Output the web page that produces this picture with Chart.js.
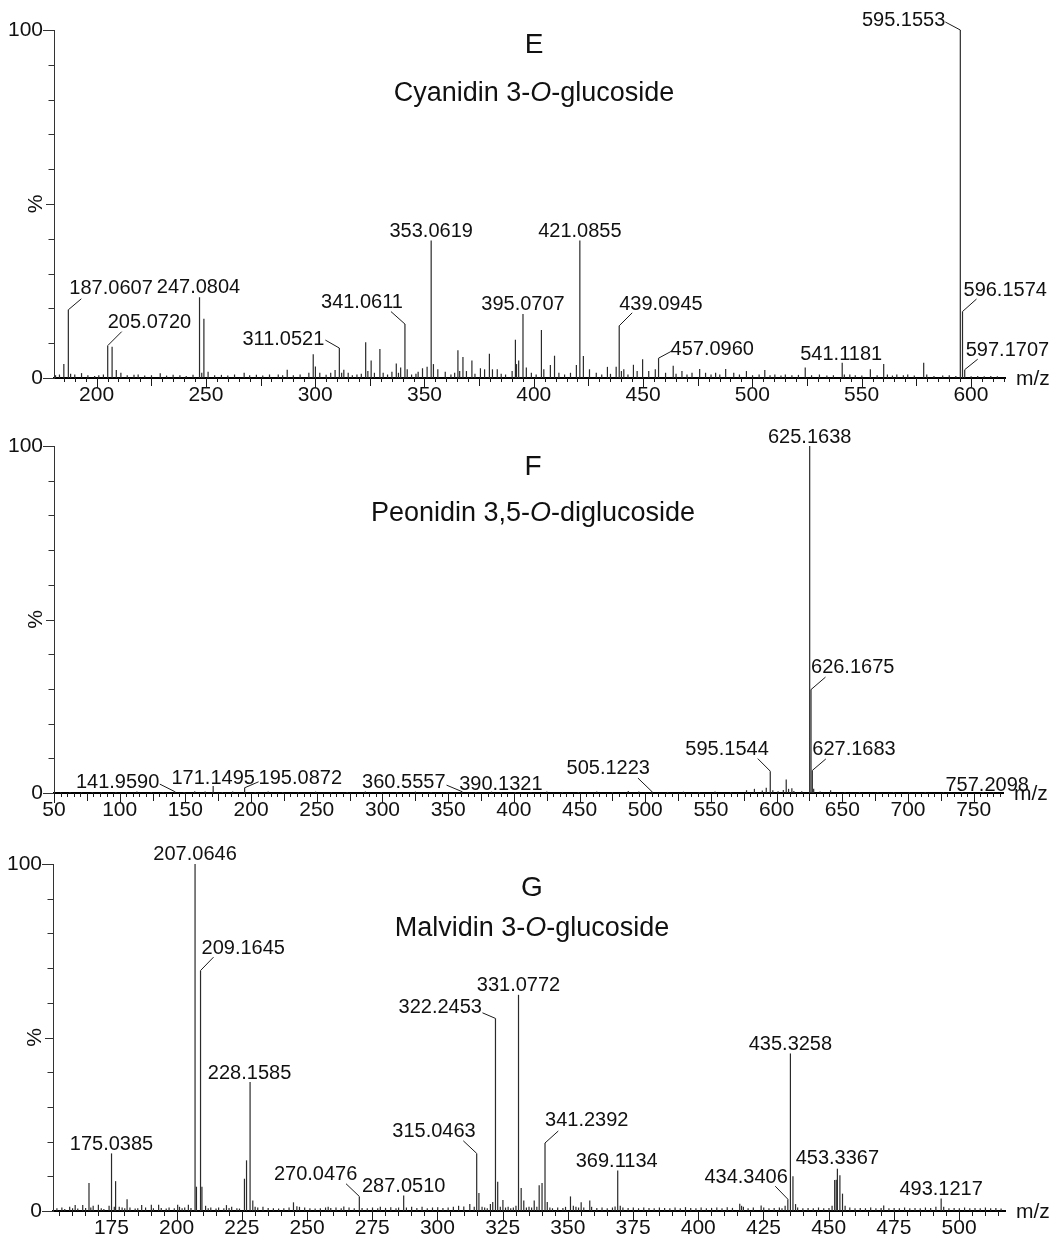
<!DOCTYPE html>
<html>
<head>
<meta charset="utf-8">
<script src="https://cdn.jsdelivr.net/npm/chart.js@4.4.1/dist/chart.umd.min.js"></script>
<style>
  html, body { margin: 0; padding: 0; background: #fff; }
  #wrap { position: relative; width: 1055px; height: 1247px; overflow: hidden; background: #fff; }
  canvas { position: absolute; left: 0; }
</style>
</head>
<body>
<div id="wrap">
  <canvas id="chartE" width="1055" height="415" style="top:0px"></canvas>
  <canvas id="chartF" width="1055" height="415" style="top:415px"></canvas>
  <canvas id="chartG" width="1055" height="417" style="top:830px"></canvas>
</div>
<script>
// ---------- datos: espectro E (Cyanidin 3-O-glucoside) ----------
const eMz = [181.2, 183.0, 185.0, 187.0607, 188.1, 190.0, 193.1, 196.0, 199.1, 201.0, 203.1, 205.0720, 207.08, 209.0, 211.1,
  214.0, 217.1, 219.0, 222.0, 225.1, 229.1, 232.0, 235.0, 238.1, 241.0, 244.1, 247.0804, 248.1, 249.08, 251.0, 254.0,
  257.1, 260.0, 263.1, 267.5, 270.0, 273.1, 276.0, 279.1, 283.1, 285.1, 287.2, 290.0, 293.1, 297.1, 299.1, 300.1, 302.1,
  305.0, 307.1, 309.1, 311.0521, 312.1, 313.1, 315.1, 317.0, 319.1, 321.1, 323.1, 324.1, 325.6, 327.1, 329.6, 331.1,
  333.1, 335.1, 337.1, 338.1, 339.1, 341.0611, 342.1, 344.1, 346.1, 347.1, 349.1, 351.2, 353.0619, 354.1, 356.1, 359.5,
  362.1, 363.8, 365.3, 366.1, 367.6, 369.2, 371.7, 373.1, 375.6, 377.5, 379.7, 381.1, 383.3, 385.1, 387.1, 390.1, 391.6,
  392.1, 393.1, 395.0707, 396.6, 398.9, 401.1, 403.5, 404.6, 407.6, 409.5, 411.5, 414.1, 416.8, 419.5, 421.0855, 422.7,
  425.5, 428.6, 431.1, 433.7, 435.1, 437.7, 439.0945, 440.1, 441.2, 443.1, 445.6, 447.3, 449.8, 452.6, 455.6, 457.0960,
  460.3, 463.8, 465.1, 467.8, 470.1, 472.4, 475.9, 478.6, 481.1, 483.2, 485.1, 487.8, 491.5, 494.1, 497.3, 500.1, 503.1,
  505.7, 508.1, 510.3, 513.1, 515.1, 518.1, 521.1, 524.2, 527.1, 530.7, 534.1, 537.1, 541.1181, 542.1, 544.6, 547.1,
  550.1, 554.0, 557.1, 560.1, 561.8, 564.1, 566.1, 569.1, 571.1, 574.1, 578.4, 579.8, 583.1, 587.1, 590.1, 593.1,
  595.1553, 596.1574, 597.1707, 600.1, 603.1, 606.1, 609.1, 612.1];
const eInt = [0.8, 1.0, 4.0, 19.6, 1.2, 1.0, 1.4, 0.8, 0.6, 0.8, 1.0, 9.3, 9.0, 2.3, 1.5,
  0.8, 0.9, 1.0, 0.7, 0.8, 1.4, 0.7, 0.9, 0.8, 0.6, 0.9, 23.2, 1.5, 17.0, 1.8, 0.8,
  0.9, 0.7, 1.0, 1.5, 0.8, 0.9, 0.7, 1.0, 1.0, 0.8, 2.4, 0.8, 1.0, 1.5, 6.8, 3.3, 1.5,
  0.9, 1.5, 2.3, 8.6, 1.5, 2.4, 1.5, 0.8, 1.0, 1.2, 10.3, 2.0, 5.0, 1.5, 8.3, 1.5,
  1.0, 1.8, 4.2, 1.5, 3.0, 15.5, 2.5, 1.0, 1.2, 1.8, 2.8, 3.2, 39.5, 4.0, 2.5, 1.8,
  1.0, 1.5, 8.0, 2.0, 6.0, 2.0, 5.0, 1.2, 2.8, 2.5, 7.0, 2.5, 2.5, 1.2, 1.0, 2.0, 11.0,
  4.0, 5.0, 18.4, 3.0, 1.5, 1.0, 13.8, 2.5, 3.7, 6.4, 1.5, 1.0, 1.5, 3.7, 39.5, 6.3,
  2.5, 1.5, 1.0, 3.2, 1.2, 3.2, 15.0, 2.0, 2.5, 1.0, 3.8, 2.0, 5.4, 2.0, 2.5, 5.7,
  1.5, 3.5, 1.2, 2.0, 1.0, 1.5, 2.6, 1.5, 1.0, 1.5, 1.0, 2.6, 1.5, 1.0, 2.0, 0.8, 1.0,
  2.3, 0.8, 1.0, 0.7, 1.0, 0.8, 0.9, 3.0, 0.8, 1.0, 0.7, 0.8, 4.4, 1.0, 1.0, 0.8,
  0.7, 2.5, 0.8, 4.0, 1.0, 0.7, 1.0, 0.8, 1.0, 0.7, 4.4, 1.0, 0.6, 0.7, 0.8, 0.6,
  100, 19.1, 2.4, 0.5, 0.6, 0.5, 0.6, 0.5];
const eLabels = ['187.0607', '205.0720', '247.0804', '311.0521', '341.0611', '353.0619', '395.0707',
  '421.0855', '439.0945', '457.0960', '541.1181', '595.1553', '596.1574', '597.1707'];
const eTicks = [200, 250, 300, 350, 400, 450, 500, 550, 600];

// ---------- datos: espectro F (Peonidin 3,5-O-diglucoside) ----------
const fMz = [55.0, 62.1, 71.0, 79.1, 86.0, 97.1, 105.0, 113.1, 124.0, 133.1, 141.9590, 149.0, 157.1, 165.0, 171.1495,
  178.1, 186.0, 195.0872, 203.1, 213.0, 224.1, 236.0, 249.1, 261.0, 273.1, 287.0, 299.1, 311.0, 325.1, 337.0, 349.1,
  360.5557, 371.1, 383.0, 390.1321, 401.1, 413.0, 425.1, 437.0, 449.1, 463.1, 475.0, 487.1, 495.1, 505.1223, 517.0,
  529.1, 541.1, 553.1, 565.0, 577.1, 583.1, 589.1, 592.1, 595.1544, 597.1, 601.1, 605.1, 607.3, 609.1, 611.6, 613.1,
  619.1, 625.1638, 626.1675, 627.1683, 628.2, 633.1, 641.1, 652.0, 663.1, 677.0, 689.1, 701.0, 713.1, 727.0, 741.1,
  757.2098, 765.0];
const fInt = [0.2, 0.3, 0.2, 0.3, 0.2, 0.3, 0.2, 0.4, 0.3, 0.2, 0.4, 0.3, 0.5, 0.4, 2.0,
  0.3, 0.4, 1.5, 0.3, 0.4, 0.3, 0.2, 0.4, 0.2, 0.3, 0.4, 0.3, 0.2, 0.4, 0.3, 0.2,
  0.4, 0.3, 0.4, 0.3, 0.3, 0.2, 0.4, 0.3, 0.3, 0.4, 0.3, 0.6, 0.4, 0.4, 0.3,
  0.4, 0.3, 0.4, 0.3, 0.8, 1.2, 0.7, 1.5, 6.3, 0.8, 0.5, 0.9, 3.9, 1.2, 1.4, 0.6,
  0.5, 100, 29.8, 6.5, 1.2, 0.4, 0.8, 0.3, 0.3, 0.2, 0.3, 0.2, 0.3, 0.2, 0.3,
  0.3, 0.2];
const fLabels = ['141.9590', '171.1495', '195.0872', '360.5557', '390.1321', '505.1223', '595.1544',
  '625.1638', '626.1675', '627.1683', '757.2098'];
const fTicks = [50, 100, 150, 200, 250, 300, 350, 400, 450, 500, 550, 600, 650, 700, 750];

// ---------- datos: espectro G (Malvidin 3-O-glucoside) ----------
const gMz = [154.1, 156.0, 157.1, 159.0, 160.1, 161.1, 162.1, 164.0, 165.1, 166.4, 167.1, 168.0, 170.0, 171.1, 172.1,
  174.1, 175.0385, 176.1, 176.6, 178.0, 179.1, 180.1, 181.0, 182.1, 184.1, 185.1, 186.6, 188.1, 190.3, 191.1, 193.1,
  194.1, 196.0, 197.1, 199.1, 200.4, 201.1, 202.1, 203.1, 204.5, 205.5, 207.0646, 207.6, 209.1645, 209.7, 211.1,
  212.1, 213.1, 215.1, 216.1, 218.1, 219.1, 220.1, 221.1, 223.1, 224.1, 226.0, 226.8, 228.1585, 229.2, 230.1, 231.1,
  233.1, 235.1, 237.1, 239.1, 241.1, 243.1, 244.8, 246.1, 247.1, 249.1, 251.1, 253.1, 255.1, 257.1, 258.1, 259.1,
  261.1, 263.1, 264.1, 266.1, 268.1, 270.0476, 271.1, 273.1, 275.1, 277.1, 278.1, 280.1, 282.1, 284.1, 285.1,
  287.0510, 288.1, 290.1, 292.1, 294.1, 296.1, 298.1, 300.1, 302.1, 304.1, 306.1, 308.1, 310.1, 312.4, 314.1,
  315.0463, 315.9, 317.1, 318.1, 319.1, 320.3, 321.2, 322.2453, 323.1, 324.1, 325.1, 326.1, 327.1, 328.1, 329.1,
  330.1, 331.0772, 332.1, 333.1, 334.1, 335.1, 336.1, 337.1, 338.1, 339.0, 340.1, 341.2392, 342.1, 343.1, 344.1,
  346.1, 348.1, 349.1, 351.0, 352.1, 353.1, 354.1, 355.1, 356.1, 358.4, 359.1, 361.1, 363.1, 365.1, 367.1, 368.1,
  369.1134, 370.1, 371.1, 373.1, 375.1, 377.1, 379.1, 381.1, 383.1, 385.1, 387.1, 389.1, 391.1, 393.1, 395.1, 397.1,
  399.1, 401.1, 403.1, 405.1, 407.1, 409.1, 411.1, 413.1, 415.9, 416.6, 417.3, 419.1, 421.1, 424.1, 425.1, 427.1,
  429.1, 431.1, 432.1, 433.3, 434.3406, 435.3258, 436.3, 437.3, 438.1, 440.1, 442.1, 444.1, 446.1, 448.1, 450.1,
  451.3, 452.3, 452.9, 453.3367, 454.3, 455.3, 456.3, 458.1, 460.1, 462.1, 464.1, 466.1, 468.1, 470.1, 471.1, 473.1,
  475.1, 477.1, 479.1, 481.1, 483.1, 485.1, 487.1, 489.1, 491.1, 493.1217, 494.1, 496.1, 498.1, 500.1, 502.1, 504.1,
  506.1, 508.1, 510.1, 512.1, 514.1, 516.1];
const gInt = [0.8, 1.0, 0.6, 1.2, 0.8, 1.7, 0.7, 1.7, 0.9, 8.1, 1.0, 1.5, 1.8, 0.8, 0.6,
  1.5, 16.6, 1.2, 8.6, 1.2, 1.0, 0.8, 3.4, 1.0, 0.7, 0.8, 1.7, 1.0, 1.8, 0.8, 1.8,
  0.9, 0.7, 1.0, 0.8, 1.8, 1.2, 0.8, 1.0, 1.8, 0.9, 100, 7.0, 69.3, 7.0, 1.5,
  0.8, 1.0, 0.7, 1.0, 0.8, 1.7, 0.9, 1.2, 0.8, 0.7, 9.3, 14.6, 37.2, 3.0, 1.2, 1.0,
  1.2, 0.9, 0.8, 0.7, 0.8, 1.0, 2.5, 1.4, 1.2, 1.0, 0.8, 0.7, 0.8, 1.0, 1.2, 0.9,
  1.0, 0.8, 1.3, 1.0, 0.8, 4.2, 0.9, 0.8, 1.0, 0.8, 1.2, 0.9, 1.1, 0.8, 1.0,
  4.5, 1.0, 1.2, 0.9, 1.2, 0.8, 1.0, 1.1, 0.9, 1.0, 1.2, 1.5, 1.3, 2.0, 1.2,
  16.6, 5.2, 1.2, 1.0, 0.8, 2.0, 2.6, 55.5, 8.4, 1.2, 3.2, 1.0, 1.2, 0.8, 1.0,
  1.5, 62.3, 6.6, 3.0, 1.0, 1.2, 1.0, 3.0, 1.2, 7.4, 8.1, 19.6, 2.6, 1.0, 0.8,
  1.0, 0.9, 1.2, 4.2, 1.5, 1.2, 1.0, 2.5, 1.0, 3.0, 1.2, 0.9, 1.0, 0.8, 1.0, 1.3,
  11.7, 1.5, 1.0, 0.9, 1.0, 0.8, 1.0, 0.9, 0.8, 1.0, 0.9, 0.8, 1.0, 0.8, 1.1, 0.9,
  0.8, 1.0, 0.8, 0.9, 1.0, 0.8, 1.1, 0.9, 2.1, 1.5, 1.2, 0.8, 1.0, 1.6, 1.0, 0.8,
  0.9, 1.0, 0.8, 1.5, 3.4, 45.4, 10.0, 2.0, 1.0, 0.8, 0.9, 0.8, 1.0, 0.8, 0.9,
  1.5, 8.9, 9.0, 12.2, 10.3, 5.0, 1.5, 1.0, 0.8, 0.9, 0.8, 1.0, 0.8, 0.9, 1.6, 0.8,
  0.9, 0.8, 1.0, 0.8, 0.9, 0.8, 1.0, 0.9, 1.2, 3.6, 1.2, 0.8, 0.9, 0.8, 1.0, 0.8,
  0.9, 0.8, 1.0, 0.8, 0.9, 0.7];
const gLabels = ['175.0385', '207.0646', '209.1645', '228.1585', '270.0476', '287.0510', '315.0463',
  '322.2453', '331.0772', '341.2392', '369.1134', '434.3406', '435.3258', '453.3367', '493.1217'];
const gTicks = [175, 200, 225, 250, 275, 300, 325, 350, 375, 400, 425, 450, 475, 500];

const yTicks = [0, 100];

// ---------- posicion de las etiquetas (alineacion, dx, dy, linea guia dx, dy) ----------
const eLabelPos = [
  ['left', 1, -16, 13, -11], ['left', 0, -18, 14, -14], ['center', -1, -4], ['right', -15, -3, -14, -8],
  ['right', -2, -16, -14, -12.5], ['center', 0, -4], ['center', 0, -4], ['center', 0, -4],
  ['left', 0, -16, 13, -13], ['left', 12, -3, 13, -7], ['center', -1, -3], ['right', -15, -4, -15, -8],
  ['left', 1, -16, 14, -12.5], ['left', 1, -14, 13, -10.5]
];
const fLabelPos = [
  ['right', -15.5, -4, -15, -7.5], ['center', 0, -2.5], ['left', 14, -3.5, 14, -6], ['right', -16.5, -4, -15.5, -6.5],
  ['center', 0, -2], ['right', -2, -18, -14, -13.5], ['right', -1.5, -16.5, -12.5, -12.5], ['center', 0, -3],
  ['left', 0, -17, 14.5, -12.5], ['left', 0, -15.5, 13.5, -11.5], ['center', 4, -1]
];
const gLabelPos = [
  ['center', 0, -3.3], ['center', 0, -3.6], ['left', 1, -16.7, 13, -13.4], ['center', -0.5, -3.4],
  ['right', -2, -16, -13.3, -12.7], ['center', 0, -3.3], ['right', -1, -16.6, -13.4, -12.6],
  ['right', -13.5, -5, -13, -5.6], ['center', 0, -4.3], ['left', 0, -16.7, 13.3, -12], ['center', -1, -3.3],
  ['right', 0, -16.3, -12.6, -13], ['center', 0, -3.3], ['center', 0, -4.3], ['center', 0, -3.3]
];

const FONT = "'Liberation Sans', Arial, Helvetica, sans-serif";

/* plugin que dibuja marcas de los ejes, etiquetas de picos y titulos */
const makeSpectrumPlugin = (p) => ({
  id: 'spectrum',
  afterDraw(chart) {
    const { ctx, chartArea: area, scales: { x, y } } = chart;
    ctx.save();
    ctx.strokeStyle = '#1a1a1a';
    ctx.lineWidth = 1;

    // marcas menores / medias / mayores del eje x
    const start = Math.ceil(x.min / p.minorStep) * p.minorStep;
    for (let v = start; v <= x.max; v += p.minorStep) {
      let len = p.minorLen;
      if (v % p.majorStep === 0) len = p.majorLen;
      else if (p.midStep && v % p.midStep === 0) len = p.midLen;
      const px = Math.round(x.getPixelForValue(v)) + 0.5;
      ctx.beginPath();
      ctx.moveTo(px, area.bottom);
      ctx.lineTo(px, area.bottom + len);
      ctx.stroke();
    }

    // marcas del eje y
    ctx.strokeStyle = '#333';
    for (let v = 0; v <= 100; v += 10) {
      const py = Math.round(y.getPixelForValue(v)) + 0.5;
      let len = 5.5;
      if (v === 0 || v === 100) len = 11;
      else if (v === 50) len = 8;
      ctx.beginPath();
      ctx.moveTo(area.left - len, py);
      ctx.lineTo(area.left, py);
      ctx.stroke();
    }

    ctx.fillStyle = '#111';
    ctx.font = `21px ${FONT}`;
    ctx.save();
    ctx.translate(area.left - 17.5, y.getPixelForValue(50));
    ctx.rotate(-Math.PI / 2);
    ctx.textAlign = 'center';
    ctx.textBaseline = 'middle';
    ctx.fillText('%', 0, 0);
    ctx.restore();

    ctx.textAlign = 'left';
    ctx.textBaseline = 'middle';
    ctx.fillText('m/z', area.right + 11, area.bottom + 1);

    // etiquetas de los picos
    ctx.font = `20px ${FONT}`;
    ctx.textBaseline = 'alphabetic';
    ctx.strokeStyle = '#1a1a1a';
    p.labels.forEach((txt, i) => {
      const mz = Number(txt);
      const k = p.mz.indexOf(mz);
      const px = x.getPixelForValue(mz);
      const py = y.getPixelForValue(p.int[k]);
      const [align, dx, dy, lx, ly] = p.labelPos[i];
      ctx.textAlign = align;
      ctx.fillText(txt, px + dx, py + dy);
      if (lx !== undefined) {
        ctx.beginPath();
        ctx.moveTo(px, py);
        ctx.lineTo(px + lx, py + ly);
        ctx.stroke();
      }
    });

    // titulo
    const t = p.title;
    ctx.textAlign = 'center';
    ctx.textBaseline = 'middle';
    ctx.font = `28px ${FONT}`;
    ctx.fillText(t.letter, t.cx, t.letterY);

    ctx.textAlign = 'left';
    ctx.textBaseline = 'alphabetic';
    const normal = `27px ${FONT}`;
    const italic = `italic 27px ${FONT}`;
    ctx.font = normal;
    const w1 = ctx.measureText(t.sub[0]).width;
    const w3 = ctx.measureText(t.sub[2]).width;
    ctx.font = italic;
    const w2 = ctx.measureText(t.sub[1]).width;
    let sx = t.cx - (w1 + w2 + w3) / 2;
    ctx.font = normal;
    ctx.fillText(t.sub[0], sx, t.subY);
    sx += w1;
    ctx.font = italic;
    ctx.fillText(t.sub[1], sx, t.subY);
    sx += w2;
    ctx.font = normal;
    ctx.fillText(t.sub[2], sx, t.subY);

    ctx.restore();
  }
});

const makeChart = (id, p) => new Chart(document.getElementById(id), {
  type: 'bar',
  data: {
    datasets: [{
      data: p.mz.map((m, i) => ({ x: m, y: p.int[i] })),
      backgroundColor: '#2a2a2a',
      borderWidth: 0,
      barThickness: 1.2,
      inflateAmount: 0
    }]
  },
  options: {
    responsive: false,
    animation: false,
    events: [],
    layout: { padding: { top: p.padTop, right: p.padRight, left: 0, bottom: 0 } },
    plugins: { legend: { display: false }, tooltip: { enabled: false } },
    scales: {
      x: {
        type: 'linear', min: p.min, max: p.max, offset: false,
        afterBuildTicks: (s) => { s.ticks = p.ticks.map((v) => ({ value: v })); },
        afterFit: (s) => { s.height = p.xHeight; },
        ticks: { autoSkip: false, maxRotation: 0, padding: 5, color: '#111', font: { family: FONT, size: 21 } },
        grid: { display: false, drawTicks: false },
        border: { display: true, color: '#000', width: 2 }
      },
      y: {
        min: 0, max: 100,
        afterBuildTicks: (s) => { s.ticks = yTicks.map((v) => ({ value: v })); },
        afterFit: (s) => { s.width = p.yWidth; },
        ticks: { padding: 11, color: '#111', font: { family: FONT, size: 21 } },
        grid: { display: false, drawTicks: false },
        border: { display: true, color: '#333', width: 1 }
      }
    }
  },
  plugins: [makeSpectrumPlugin(p)]
});

const panelE = {
  mz: eMz, int: eInt, labels: eLabels, labelPos: eLabelPos, ticks: eTicks,
  min: 180.5, max: 615.6, padTop: 30, padRight: 50, xHeight: 37, yWidth: 54,
  minorStep: 5, midStep: 25, majorStep: 50, minorLen: 4, midLen: 8, majorLen: 10,
  title: { letter: 'E', sub: ['Cyanidin 3-', 'O', '-glucoside'], cx: 534, letterY: 45, subY: 101 }
};
const panelF = {
  mz: fMz, int: fInt, labels: fLabels, labelPos: fLabelPos, ticks: fTicks,
  min: 50, max: 772.3, padTop: 31, padRight: 52, xHeight: 37, yWidth: 54,
  minorStep: 5, midStep: 25, majorStep: 50, minorLen: 4, midLen: 8, majorLen: 10,
  title: { letter: 'F', sub: ['Peonidin 3,5-', 'O', '-diglucoside'], cx: 533, letterY: 52, subY: 106 }
};
const panelG = {
  mz: gMz, int: gInt, labels: gLabels, labelPos: gLabelPos, ticks: gTicks,
  min: 152.6, max: 517.6, padTop: 34, padRight: 50, xHeight: 36, yWidth: 53,
  minorStep: 5, midStep: 0, majorStep: 25, minorLen: 5, midLen: 5, majorLen: 10,
  title: { letter: 'G', sub: ['Malvidin 3-', 'O', '-glucoside'], cx: 532, letterY: 58, subY: 106 }
};

makeChart('chartE', panelE);
makeChart('chartF', panelF);
makeChart('chartG', panelG);
</script>
</body>
</html>
